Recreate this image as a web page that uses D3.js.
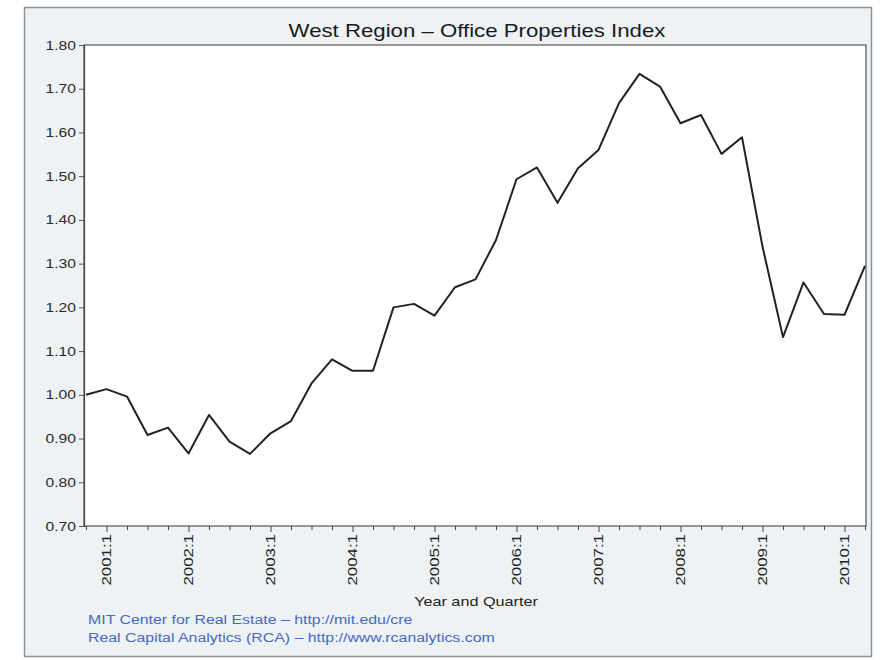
<!DOCTYPE html>
<html>
<head>
<meta charset="utf-8">
<script src="https://cdn.jsdelivr.net/npm/d3@7/dist/d3.min.js"></script>
<style>
  html, body { margin: 0; padding: 0; background: #ffffff; }
  svg { display: block; }
  text { font-family: "Liberation Sans", Arial, sans-serif; }
</style>
</head>
<body>
<svg id="chart" width="880" height="660"></svg>
<script>
// Quarterly periods, 2000:4 through 2010:2
const quarters = [
  "2000:4",
  "2001:1","2001:2","2001:3","2001:4",
  "2002:1","2002:2","2002:3","2002:4",
  "2003:1","2003:2","2003:3","2003:4",
  "2004:1","2004:2","2004:3","2004:4",
  "2005:1","2005:2","2005:3","2005:4",
  "2006:1","2006:2","2006:3","2006:4",
  "2007:1","2007:2","2007:3","2007:4",
  "2008:1","2008:2","2008:3","2008:4",
  "2009:1","2009:2","2009:3","2009:4",
  "2010:1","2010:2"
];

// Office properties index, West region
const indexValues = [
  1.000,
  1.013, 0.996, 0.908, 0.925,
  0.866, 0.954, 0.893, 0.865,
  0.912, 0.940, 1.026, 1.081,
  1.055, 1.055, 1.200, 1.208,
  1.181, 1.246, 1.264, 1.354,
  1.493, 1.520, 1.439, 1.518,
  1.560, 1.667, 1.734, 1.705,
  1.621, 1.640, 1.551, 1.589,
  1.339, 1.132, 1.257, 1.185,
  1.183, 1.295
];

const yTicks = [0.70, 0.80, 0.90, 1.00, 1.10, 1.20, 1.30, 1.40, 1.50, 1.60, 1.70, 1.80];
const xLabelled = ["2001:1","2002:1","2003:1","2004:1","2005:1","2006:1","2007:1","2008:1","2009:1","2010:1"];

const titleText = "West Region \u2013 Office Properties Index";
const xTitle = "Year and Quarter";
const credits = [
  "MIT Center for Real Estate \u2013 http://mit.edu/cre",
  "Real Capital Analytics (RCA) \u2013 http://www.rcanalytics.com"
];

const svg = d3.select("#chart");

// widen glyphs along the text direction (the chart's typeface runs wide)
function widen(selection, factor) {
  selection.each(function () {
    const len = this.getComputedTextLength();
    if (len > 0) {
      d3.select(this)
        .attr("textLength", len * factor)
        .attr("lengthAdjust", "spacingAndGlyphs");
    }
  });
}

// outer panel
svg.append("rect")
  .attr("x", 24.5).attr("y", 7.5)
  .attr("width", 847).attr("height", 649)
  .attr("fill", "#eef2f4")
  .attr("stroke", "#8a9296").attr("stroke-width", 1.5);

const plot = { left: 84, right: 866, top: 45, bottom: 526 };

const x = d3.scalePoint()
  .domain(quarters)
  .range([86, 865]);

const y = d3.scaleLinear()
  .domain([0.70, 1.80])
  .range([plot.bottom, plot.top]);

// plot area
svg.append("rect")
  .attr("x", plot.left).attr("y", plot.top)
  .attr("width", plot.right - plot.left).attr("height", plot.bottom - plot.top)
  .attr("fill", "#ffffff")
  .attr("stroke", "#555555").attr("stroke-width", 1.2);

// title
svg.append("text")
  .attr("x", 477).attr("y", 37)
  .attr("text-anchor", "middle")
  .attr("font-size", 18.5)
  .attr("fill", "#1a1a1a")
  .text(titleText)
  .call(widen, 1.2);

// y axis
const yAxis = d3.axisLeft(y)
  .tickValues(yTicks)
  .tickFormat(d3.format(".2f"))
  .tickSize(5)
  .tickPadding(3);

const gy = svg.append("g")
  .attr("transform", `translate(${plot.left},0)`)
  .call(yAxis);
gy.select(".domain").attr("stroke", "#444").attr("stroke-width", 1.2);
gy.selectAll(".tick line").attr("stroke", "#555");
gy.selectAll(".tick text")
  .attr("font-size", 12.5)
  .attr("fill", "#2a2a2a")
  .attr("font-family", "'Liberation Sans', Arial, sans-serif")
  .call(widen, 1.25);

// x axis: minor tick every quarter, labels on first quarters
const xAxis = d3.axisBottom(x)
  .tickValues(quarters)
  .tickFormat(d => xLabelled.includes(d) ? d : "")
  .tickSizeOuter(0)
  .tickSize(4)
  .tickPadding(6);

const gx = svg.append("g")
  .attr("transform", `translate(0,${plot.bottom})`)
  .call(xAxis);
gx.select(".domain").remove();
gx.selectAll(".tick line")
  .attr("stroke", "#444")
  .attr("y2", d => xLabelled.includes(d) ? 6 : 4);
gx.selectAll(".tick text")
  .attr("font-size", 12.5)
  .attr("fill", "#222")
  .attr("font-family", "'Liberation Sans', Arial, sans-serif")
  .attr("text-anchor", "end")
  .attr("transform", "rotate(-90)")
  .attr("x", -8)
  .attr("y", 0)
  .attr("dy", "0.35em")
  .call(widen, 1.35);

// axis title
svg.append("text")
  .attr("x", 476).attr("y", 606)
  .attr("text-anchor", "middle")
  .attr("font-size", 13.5)
  .attr("fill", "#222")
  .text(xTitle)
  .call(widen, 1.2);

// index line
const line = d3.line()
  .x((d, i) => x(quarters[i]))
  .y(d => y(d));

svg.append("path")
  .datum(indexValues)
  .attr("d", line)
  .attr("fill", "none")
  .attr("stroke", "#222")
  .attr("stroke-width", 2)
  .attr("stroke-linejoin", "round");

// source credits
svg.selectAll("text.credit")
  .data(credits)
  .join("text")
  .attr("class", "credit")
  .attr("x", 88)
  .attr("y", (d, i) => 624 + i * 18)
  .attr("font-size", 12.5)
  .attr("fill", "#4868c4")
  .text(d => d)
  .call(widen, 1.27);
</script>
</body>
</html>
